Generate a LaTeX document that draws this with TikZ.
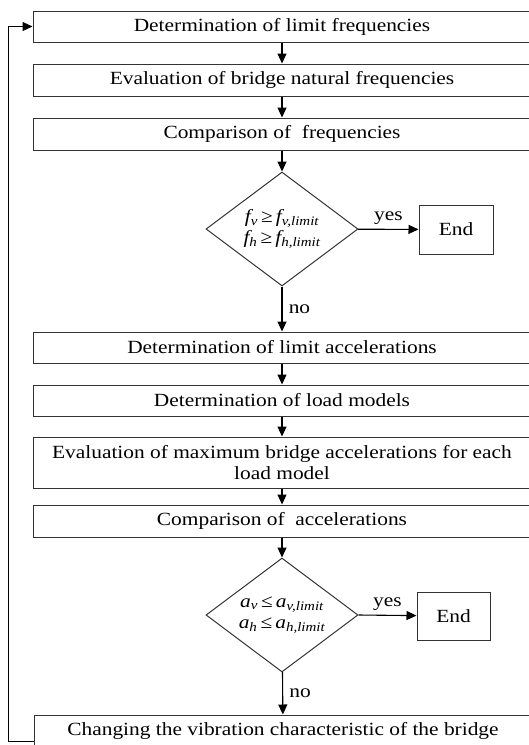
\documentclass[tikz,border=0pt]{standalone}
\usepackage{fontspec}
\setmainfont{Liberation Serif}[FakeStretch=1.15]
\usetikzlibrary{shapes.geometric,arrows.meta}

\begin{document}
\begin{tikzpicture}[
		base/.style={draw=black!80, line width=1pt, minimum width=498pt, minimum height=31pt, inner sep=0pt, align=center},
		test/.style={diamond, draw=black!80, line width=1pt, minimum width=152pt, minimum height=114pt, inner sep=0pt, aspect=1.33, align=center},
		stop/.style={draw=black!80, line width=1pt, minimum width=74pt, minimum height=49pt},
		link/.style={-{Triangle[length=10pt, width=9pt]}, draw, line width=1.1pt}
	]
	\fontsize{18.6}{27}\selectfont
	\useasboundingbox (0pt,0pt) rectangle (529pt,-745pt);

	\node[base] at (282pt, -26.5pt) (limfreq) {Determination of limit frequencies};
	\node[base, minimum height=32pt] at (282pt, -80pt) (natfreq) {Evaluation of bridge natural frequencies};
	\node[base, minimum height=32pt] at (282pt, -134pt) (cmpfreq) {Comparison of~ frequencies};
	\node[test] at (282pt, -229pt) (qfreq) {{\itshape f}\textsubscript{\itshape v}\,≥\,{\itshape f}\textsubscript{\itshape v,limit}\\[-6pt]{\itshape f}\textsubscript{\itshape h}\,≥\,{\itshape f}\textsubscript{\itshape h,limit}};
	\node[stop] at (456pt, -229.5pt) (endfreq) {End};

	\node[base] at (282pt, -347.5pt) (limacc) {Determination of limit accelerations};
	\node[base] at (282pt, -400.5pt) (loads) {Determination of load models};
	\node[base, minimum height=51pt] at (282pt, -462.5pt) (maxacc) {Evaluation of maximum bridge accelerations for each\\[-6pt]load model};
	\node[base, minimum height=32pt] at (282pt, -521pt) (cmpacc) {Comparison of~ accelerations};
	\node[test] at (282pt, -615pt) (qacc) {{\itshape a}\textsubscript{\itshape v}\,≤\,{\itshape a}\textsubscript{\itshape v,limit}\\[-6pt]{\itshape a}\textsubscript{\itshape h}\,≤\,{\itshape a}\textsubscript{\itshape h,limit}};
	\node[stop, minimum width=73pt, minimum height=48pt] at (453.5pt, -616pt) (endacc) {End};
	\node[base, minimum height=32pt] at (283pt, -731pt) (change) {Changing the vibration characteristic of the bridge};

	\draw[link] (limfreq) -- (natfreq);
	\draw[link] (natfreq) -- (cmpfreq);
	\draw[link] (cmpfreq) -- (qfreq);
	\draw[link] (qfreq) -- node [midway, above=-2pt] {yes} (endfreq);
	\draw[link] (qfreq) -- node [midway, right] {no} (limacc);
	\draw[link] (limacc) -- (loads);
	\draw[link] (loads) -- (maxacc);
	\draw[link] (maxacc) -- (cmpacc);
	\draw[link] (cmpacc) -- (qacc);
	\draw[link] (qacc.east) -- node [midway, above=-2pt] {yes} (endacc);
	\draw[link] (qacc) -- node [midway, right] {no} (change);

	\draw[link] ([yshift=6pt]change.south west) -- ++(-25pt,0) |- (limfreq.west);

	\end{tikzpicture}
\end{document}
